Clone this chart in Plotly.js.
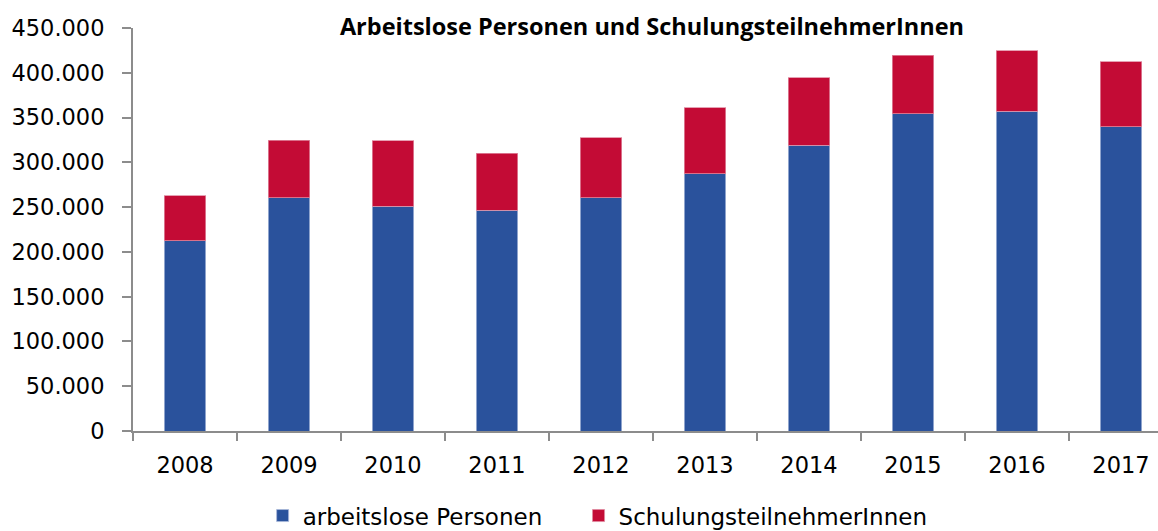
<!DOCTYPE html>
<html><head><meta charset="utf-8">
<script src="https://cdn.plot.ly/plotly-3.0.1.min.js"></script>
<style>html,body{margin:0;padding:0;background:#fff}#chart{width:1158px;height:531px}</style>
</head><body><div id="chart"></div>
<script>
const years = ["2008","2009","2010","2011","2012","2013","2014","2015","2016","2017"];
const arbeitslose = [212253,260309,250782,246702,260643,287207,319357,354332,357313,339976];
const schulung = [50595,64143,73190,63231,66585,73516,75317,65137,67522,72412];
const yTicks = [0,50000,100000,150000,200000,250000,300000,350000,400000,450000];
const yTickText = ["0","50.000","100.000","150.000","200.000","250.000","300.000","350.000","400.000","450.000"];

const font = "DejaVu Sans, sans-serif";
const traces = [
  {type:"bar", name:"arbeitslose Personen", x:years, y:arbeitslose, legend:"legend",
   marker:{color:"#2A529C", line:{color:"#A9B9DA", width:0.8}}, width:0.4, hoverinfo:"skip"},
  {type:"bar", name:"SchulungsteilnehmerInnen", x:years, y:schulung, legend:"legend2",
   marker:{color:"#C30B35", line:{color:"#E08AA0", width:0.8}}, width:0.4, hoverinfo:"skip"}
];
const legendBase = {orientation:"h", xanchor:"left", xref:"container", y:0.029, yanchor:"middle", yref:"container",
          font:{family:font, size:23}, itemwidth:30, bgcolor:"rgba(0,0,0,0)"};
const layout = {
  width:1158, height:531, barmode:"stack", bargap:0.6,
  paper_bgcolor:"#fff", plot_bgcolor:"#fff",
  margin:{l:133, r:0, t:28, b:100},
  font:{family:font, size:22, color:"#000"},
  title:{text:"<b>Arbeitslose Personen und SchulungsteilnehmerInnen</b>",
         font:{family:"Open Sans, sans-serif", size:23.5, color:"#000"},
         x:0.563, xanchor:"center", xref:"container", y:0.95, yanchor:"middle", yref:"container"},
  xaxis:{type:"category", range:[-0.5, 9.356], showgrid:false, showline:true, linecolor:"#8c8c8c", linewidth:2,
         ticks:"outside", tickson:"boundaries", ticklen:8, tickwidth:2, tickcolor:"#8c8c8c",
         ticklabelstandoff:13, tickfont:{family:font, size:22.5}, zeroline:false, fixedrange:true},
  yaxis:{range:[0,450000], tickvals:yTicks, ticktext:yTickText, showgrid:false, showline:true,
         linecolor:"#8c8c8c", linewidth:2, ticks:"outside", ticklen:9, tickwidth:2, tickcolor:"#8c8c8c",
         ticklabelstandoff:13, tickfont:{family:font, size:22.5}, zeroline:false, fixedrange:true},
  showlegend:true,
  legend:Object.assign({}, legendBase, {x:0.2268}),
  legend2:Object.assign({}, legendBase, {x:0.4996})
};
Plotly.newPlot("chart", traces, layout, {displayModeBar:false, staticPlot:true});
</script></body></html>
